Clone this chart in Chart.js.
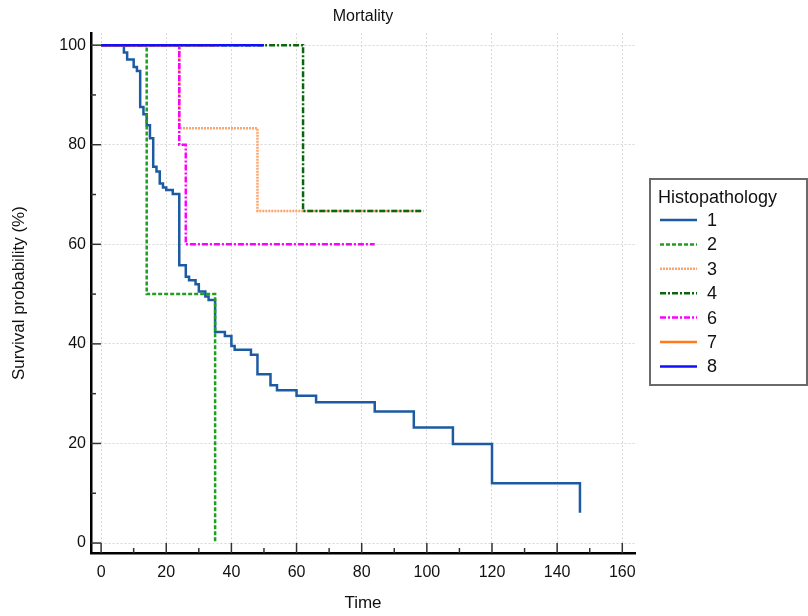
<!DOCTYPE html>
<html>
<head>
<meta charset="utf-8">
<title>Mortality</title>
<script src="https://cdn.jsdelivr.net/npm/chart.js@4.4.1/dist/chart.umd.min.js"></script>
<style>
  body { margin: 0; background: #fff; }
  #wrap { width: 808px; height: 616px; }
</style>
</head>
<body>
<div id="wrap"><canvas id="chart" width="808" height="616"></canvas></div>
<script>
// Kaplan-Meier steps per histopathology group (time, survival %)
const groups = ["1", "2", "3", "4", "6", "7", "8"];

const times1 = [0, 7, 8, 10, 11, 12, 13, 14, 15, 16, 17, 18, 19, 20, 22, 24, 26, 27, 29, 30, 32, 33, 35, 38, 40, 41, 46, 48, 52, 54, 60, 66, 84, 96, 108, 120, 147];
const surv1 = [100, 98.5, 97.1, 95.6, 94.8, 87.6, 86.1, 83.9, 81.3, 75.6, 74.6, 72.2, 71.4, 70.9, 70.1, 55.8, 53.5, 52.8, 52.0, 50.5, 49.5, 48.8, 42.4, 41.6, 39.6, 38.8, 37.8, 33.9, 31.7, 30.7, 29.6, 28.3, 26.4, 23.2, 19.9, 12.0, 6.1];

const times2 = [0, 14, 35];
const surv2 = [100, 50, 0];

const times3 = [0, 24, 48, 98];
const surv3 = [100, 83.3, 66.7, 66.7];

const times4 = [0, 62, 99];
const surv4 = [100, 66.7, 66.7];

const times6 = [0, 24, 26, 84];
const surv6 = [100, 80, 60, 60];

const times7 = [0, 36];
const surv7 = [100, 100];

const times8 = [0, 50];
const surv8 = [100, 100];

// Axis ticks
const xTickLabels = [0, 20, 40, 60, 80, 100, 120, 140, 160];
const xMinorTicks = [10, 30, 50, 70, 90, 110, 130, 150];
const yTickLabels = [0, 20, 40, 60, 80, 100];
const yMinorTicks = [10, 30, 50, 70, 90];

function toPoints(times, surv) {
    return times.map((t, i) => ({ x: t, y: surv[i] }));
}

const FONT = "'Liberation Sans', Arial, sans-serif";
Chart.defaults.font.family = FONT;
Chart.defaults.color = "#111";

const seriesStyles = [
    { color: "#1c5ba3", dash: [], width: 2.5 },
    { color: "#1f9e1f", dash: [4, 2], width: 2.5 },
    { color: "#fba46c", dash: [2, 1], width: 2.5 },
    { color: "#0a660a", dash: [6, 2, 2, 2], width: 2.5 },
    { color: "#ff00ff", dash: [6, 2, 2, 2], width: 2.5 },
    { color: "#ff7a1a", dash: [], width: 2.5 },
    { color: "#1010ff", dash: [], width: 2.5 }
];
const seriesData = [
    toPoints(times1, surv1),
    toPoints(times2, surv2),
    toPoints(times3, surv3),
    toPoints(times4, surv4),
    toPoints(times6, surv6),
    toPoints(times7, surv7),
    toPoints(times8, surv8)
];

const datasets = groups.map((g, i) => ({
    label: g,
    data: seriesData[i],
    borderColor: seriesStyles[i].color,
    backgroundColor: seriesStyles[i].color,
    borderDash: seriesStyles[i].dash,
    borderWidth: seriesStyles[i].width,
    stepped: "before",
    pointRadius: 0,
    fill: false,
    order: groups.length - i
}));

// Inward major/minor tick marks on both axes
const tickMarks = {
    id: "tickMarks",
    afterDraw(chart) {
        const { ctx, chartArea, scales } = chart;
        ctx.save();
        ctx.strokeStyle = "#333";
        ctx.lineWidth = 1.5;
        const drawX = (v, len) => {
            const px = scales.x.getPixelForValue(v);
            ctx.beginPath();
            ctx.moveTo(px, chartArea.bottom);
            ctx.lineTo(px, chartArea.bottom - len);
            ctx.stroke();
        };
        const drawY = (v, len) => {
            const py = scales.y.getPixelForValue(v);
            ctx.beginPath();
            ctx.moveTo(chartArea.left, py);
            ctx.lineTo(chartArea.left + len, py);
            ctx.stroke();
        };
        xTickLabels.forEach(v => drawX(v, 10));
        xMinorTicks.forEach(v => drawX(v, 5));
        yTickLabels.forEach(v => drawY(v, 10));
        yMinorTicks.forEach(v => drawY(v, 5));
        ctx.restore();
    }
};

// Boxed legend with title, drawn from the datasets
const boxLegend = {
    id: "boxLegend",
    afterDraw(chart) {
        const ctx = chart.ctx;
        ctx.save();
        ctx.strokeStyle = "#6a6a6a";
        ctx.lineWidth = 2;
        ctx.strokeRect(650, 179, 157, 206);
        ctx.fillStyle = "#111";
        ctx.textBaseline = "middle";
        ctx.font = "18px " + FONT;
        ctx.fillText("Histopathology", 658, 198);
        chart.data.datasets.forEach((ds, i) => {
            const y = 220 + i * 24.4;
            ctx.beginPath();
            ctx.strokeStyle = ds.borderColor;
            ctx.lineWidth = ds.borderWidth;
            ctx.setLineDash(ds.borderDash);
            ctx.moveTo(660, y);
            ctx.lineTo(697, y);
            ctx.stroke();
            ctx.setLineDash([]);
            ctx.fillStyle = "#111";
            ctx.fillText(ds.label, 707, y + 1);
        });
        ctx.restore();
    }
};

new Chart(document.getElementById("chart"), {
    type: "line",
    data: { datasets: datasets },
    plugins: [tickMarks, boxLegend],
    options: {
        responsive: false,
        animation: false,
        layout: { padding: { left: 0, right: 173, top: 0, bottom: 0 } },
        plugins: {
            legend: { display: false },
            tooltip: { enabled: false },
            title: {
                display: true,
                text: "Mortality",
                fullSize: false,
                color: "#111",
                font: { size: 16, weight: "normal" },
                padding: { top: 7, bottom: 7 }
            }
        },
        scales: {
            x: {
                type: "linear",
                min: -3.1,
                max: 163.9,
                afterBuildTicks: s => { s.ticks = xTickLabels.map(v => ({ value: v })); },
                afterFit: s => { s.height = 63; },
                ticks: { font: { size: 16 }, padding: 10, color: "#111", maxRotation: 0 },
                grid: { color: "#d6d6d6", lineWidth: 1, drawTicks: false },
                border: { display: true, color: "#000", width: 2.5, dash: [2, 2] },
                title: { display: true, text: "Time", font: { size: 17 }, color: "#111", padding: { top: 0, bottom: 2 } }
            },
            y: {
                min: -2,
                max: 102.4,
                afterBuildTicks: s => { s.ticks = yTickLabels.map(v => ({ value: v })); },
                afterFit: s => { s.width = 91; },
                ticks: { font: { size: 16 }, padding: 5, color: "#111" },
                grid: { color: "#d6d6d6", lineWidth: 1, drawTicks: false },
                border: { display: true, color: "#000", width: 2.5, dash: [2, 2] },
                title: { display: true, text: "Survival probability (%)", font: { size: 17 }, color: "#111", padding: { top: 9, bottom: 0 } }
            }
        }
    }
});
</script>
</body>
</html>
